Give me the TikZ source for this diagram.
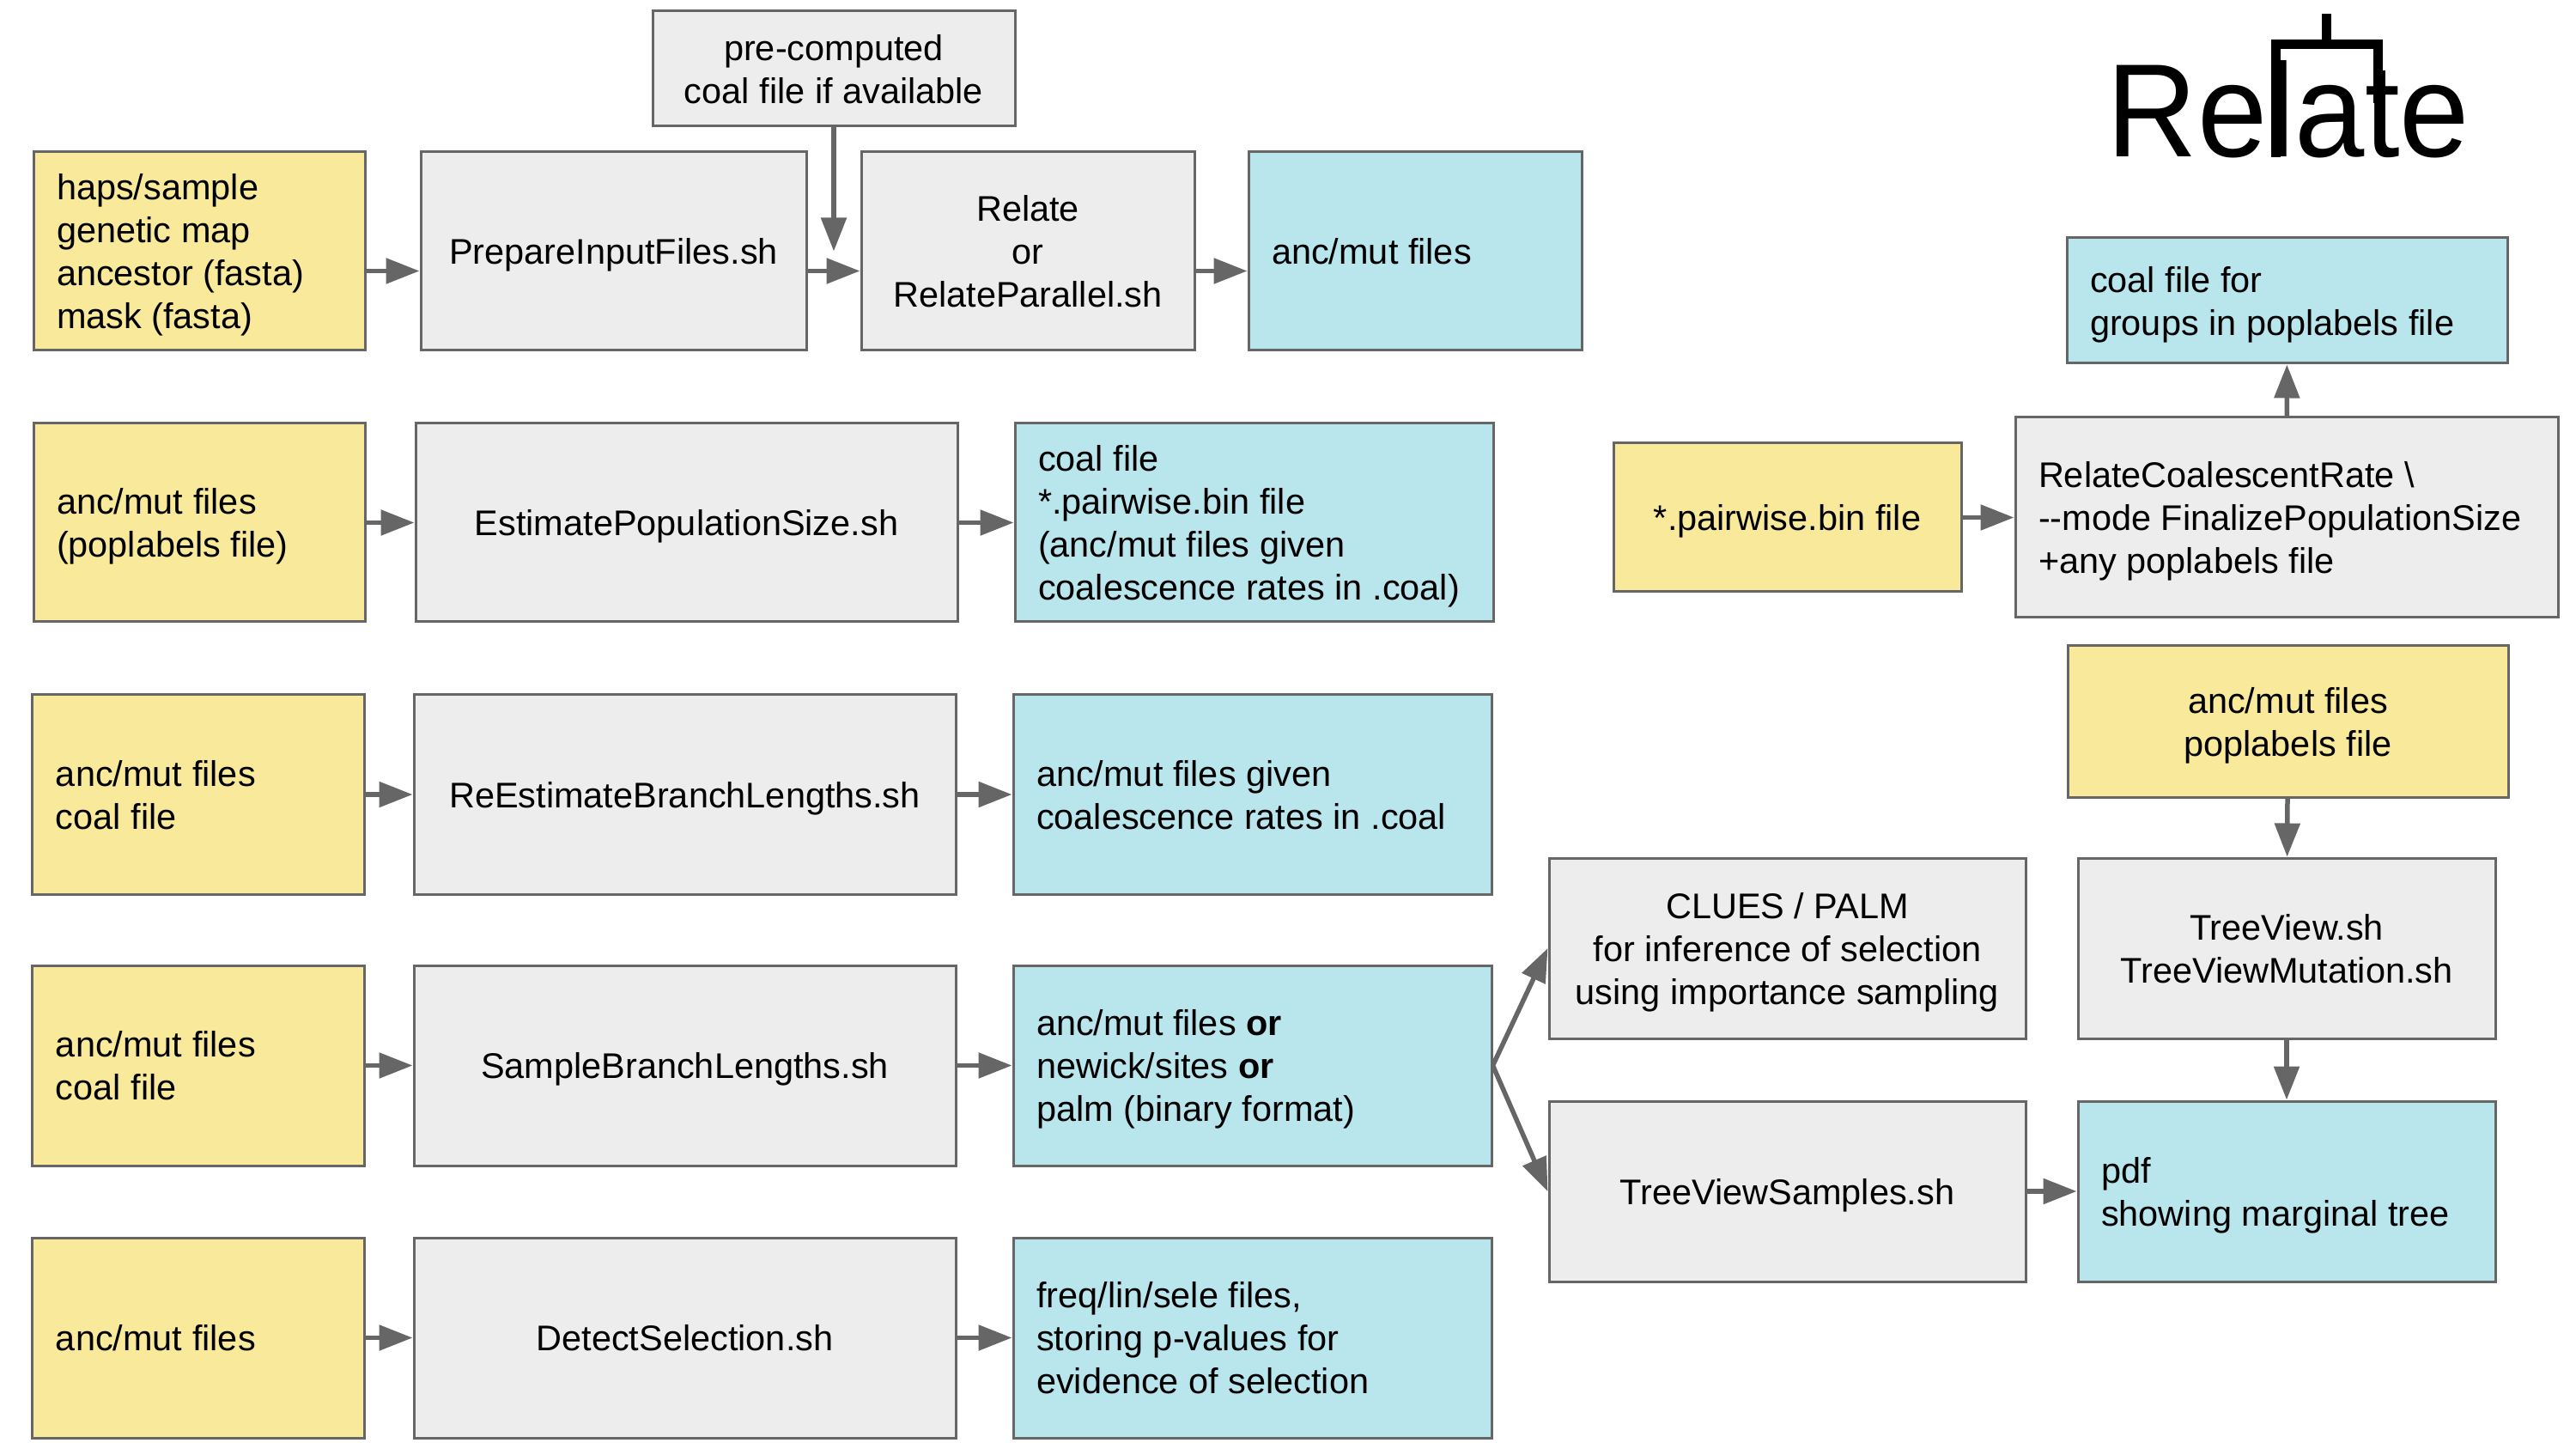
\documentclass[tikz,border=0pt]{standalone}
\usepackage{fontspec}
\usepackage{graphicx}
\setmainfont{Liberation Sans}
\usetikzlibrary{arrows.meta}
\definecolor{inyellow}{HTML}{F9E99A}
\definecolor{outblue}{HTML}{B9E5EC}
\definecolor{stepgray}{HTML}{EDEDED}
\definecolor{edgegray}{HTML}{666666}
\newcommand{\tstrut}{\spaceskip=3.28pt\relax\rule{0pt}{11.2pt}}
\newcommand{\bstrut}{\rule[-2.5pt]{0pt}{2.5pt}}
\begin{document}
\begin{tikzpicture}[x=1cm,y=-1cm]
\tikzstyle{recti}=[rectangle,draw=edgegray,line width=0.03cm,inner xsep=0.27cm,inner ysep=0pt,font=\fontsize{11.8}{14.2}\selectfont]
\tikzstyle{inbox}=[recti,fill=inyellow,align=left]
\tikzstyle{incenter}=[recti,fill=inyellow,align=center]
\tikzstyle{outbox}=[recti,fill=outblue,align=left]
\tikzstyle{stepbox}=[recti,fill=stepgray,align=center]
\tikzstyle{stepleft}=[recti,fill=stepgray,align=left]
\tikzstyle{flow}=[draw=edgegray,line width=0.055cm,-{Triangle[length=0.39cm,width=0.29cm]}]
\tikzstyle{logoline}=[draw=black,line width=0.11cm]
\useasboundingbox (0,0) rectangle (30,16.87);
% first row
\node [stepbox,text width=3.68cm,minimum height=1.34cm] (precoal) at (9.71,0.80) {\tstrut pre-computed\\coal file if available\bstrut};
\node [inbox,text width=3.32cm,minimum height=2.31cm] (inhaps) at (2.32,2.925) {\tstrut haps/sample\\genetic map\\ancestor (fasta)\\mask (fasta)\bstrut};
\node [stepbox,text width=3.95cm,minimum height=2.31cm] (prepfiles) at (7.145,2.925) {\tstrut PrepareInputFiles.sh\bstrut};
\node [stepbox,text width=3.34cm,minimum height=2.31cm] (relaterun) at (11.97,2.925) {\tstrut Relate\\or\\RelateParallel.sh\bstrut};
\node [outbox,text width=3.34cm,minimum height=2.31cm] (outanc) at (16.48,2.925) {\tstrut anc/mut files\bstrut};
% second row
\node [inbox,text width=3.32cm,minimum height=2.31cm] (inpop) at (2.32,6.085) {\tstrut anc/mut files\\(poplabels file)\bstrut};
\node [stepbox,text width=5.77cm,minimum height=2.31cm] (estpop) at (7.995,6.085) {\tstrut EstimatePopulationSize.sh\bstrut};
\node [outbox,text width=5.03cm,minimum height=2.31cm] (outcoal) at (14.605,6.085) {\tstrut coal file\\{}*.pairwise.bin file\\(anc/mut files given\\coalescence rates in .coal)\bstrut};
% third row
\node [inbox,text width=3.32cm,minimum height=2.32cm] (inbranch) at (2.31,9.25) {\tstrut anc/mut files\\coal file\bstrut};
\node [stepbox,text width=5.77cm,minimum height=2.32cm] (rebranch) at (7.975,9.25) {\tstrut ReEstimateBranchLengths.sh\bstrut};
\node [outbox,text width=5.03cm,minimum height=2.32cm] (outbranch) at (14.585,9.25) {\tstrut anc/mut files given\\coalescence rates in .coal\bstrut};
% fourth row
\node [inbox,text width=3.32cm,minimum height=2.33cm] (insample) at (2.31,12.405) {\tstrut anc/mut files\\coal file\bstrut};
\node [stepbox,text width=5.77cm,minimum height=2.33cm] (sample) at (7.975,12.405) {\tstrut SampleBranchLengths.sh\bstrut};
\node [outbox,text width=5.03cm,minimum height=2.33cm] (outsample) at (14.585,12.405) {\tstrut anc/mut files \textbf{or}\\newick/sites \textbf{or}\\palm (binary format)\bstrut};
% fifth row
\node [inbox,text width=3.32cm,minimum height=2.33cm] (indetect) at (2.31,15.575) {\tstrut anc/mut files\bstrut};
\node [stepbox,text width=5.77cm,minimum height=2.33cm] (detect) at (7.975,15.575) {\tstrut DetectSelection.sh\bstrut};
\node [outbox,text width=5.03cm,minimum height=2.33cm] (outdetect) at (14.585,15.575) {\tstrut freq/lin/sele files,\\storing p-values for\\evidence of selection\bstrut};
% right part
\node [stepbox,text width=5.01cm,minimum height=2.10cm] (clues) at (20.815,11.04) {\tstrut CLUES / PALM\\for inference of selection\\using importance sampling\bstrut};
\node [stepbox,text width=5.01cm,minimum height=2.10cm] (viewsamples) at (20.815,13.87) {\tstrut TreeViewSamples.sh\bstrut};
\node [stepbox,text width=4.32cm,minimum height=2.10cm] (treeview) at (26.63,11.04) {\tstrut TreeView.sh\\TreeViewMutation.sh\bstrut};
\node [outbox,text width=4.32cm,minimum height=2.10cm] (outpdf) at (26.63,13.87) {\tstrut pdf\\showing marginal tree\bstrut};
\node [incenter,text width=4.59cm,minimum height=1.76cm] (intree) at (26.645,8.40) {\tstrut anc/mut files\\poplabels file\bstrut};
\node [stepleft,text width=5.78cm,minimum height=2.33cm] (coalrate) at (26.63,6.025) {\tstrut RelateCoalescentRate \textbackslash\\-{}-mode FinalizePopulationSize\\+any poplabels file\bstrut};
\node [incenter,text width=3.51cm,minimum height=1.73cm] (inpairwise) at (20.815,6.025) {\tstrut *.pairwise.bin file\bstrut};
\node [outbox,text width=4.59cm,minimum height=1.46cm] (outgroups) at (26.635,3.50) {\tstrut coal file for\\groups in poplabels file\bstrut};
% logo
\node [anchor=base west,inner sep=0pt,font=\fontsize{44}{50}\selectfont] (logo) at (24.53,1.83) {\scalebox{0.945}[1]{Relate}};
\draw [logoline] (26.50,1.83) -- (26.50,0.52) -- (27.69,0.52) -- (27.69,1.2);
\draw [logoline] (27.09,0.52) -- (27.09,0.16);
% arrows
\draw [flow] ([yshift=-0.23cm]inhaps.east) -- ([yshift=-0.23cm]prepfiles.west);
\draw [flow] ([yshift=-0.23cm]prepfiles.east) -- ([yshift=-0.23cm]relaterun.west);
\draw [flow] ([yshift=-0.23cm]relaterun.east) -- ([yshift=-0.23cm]outanc.west);
\draw [flow] (precoal.south) -- (precoal.south |- relaterun.west);
\draw [flow] (inpop) -- (estpop);
\draw [flow] (estpop) -- (outcoal);
\draw [flow] (inbranch) -- (rebranch);
\draw [flow] (rebranch) -- (outbranch);
\draw [flow] (insample) -- (sample);
\draw [flow] (sample) -- (outsample);
\draw [flow] (indetect) -- (detect);
\draw [flow] (detect) -- (outdetect);
\draw [flow] (outsample.east) -- (clues.west);
\draw [flow] (outsample.east) -- (viewsamples.west);
\draw [flow] (viewsamples) -- (outpdf);
\draw [flow] (intree) -- (treeview);
\draw [flow] (treeview) -- (outpdf);
\draw [flow] (inpairwise) -- (coalrate);
\draw [flow] (coalrate) -- (outgroups);
\end{tikzpicture}
\end{document}
